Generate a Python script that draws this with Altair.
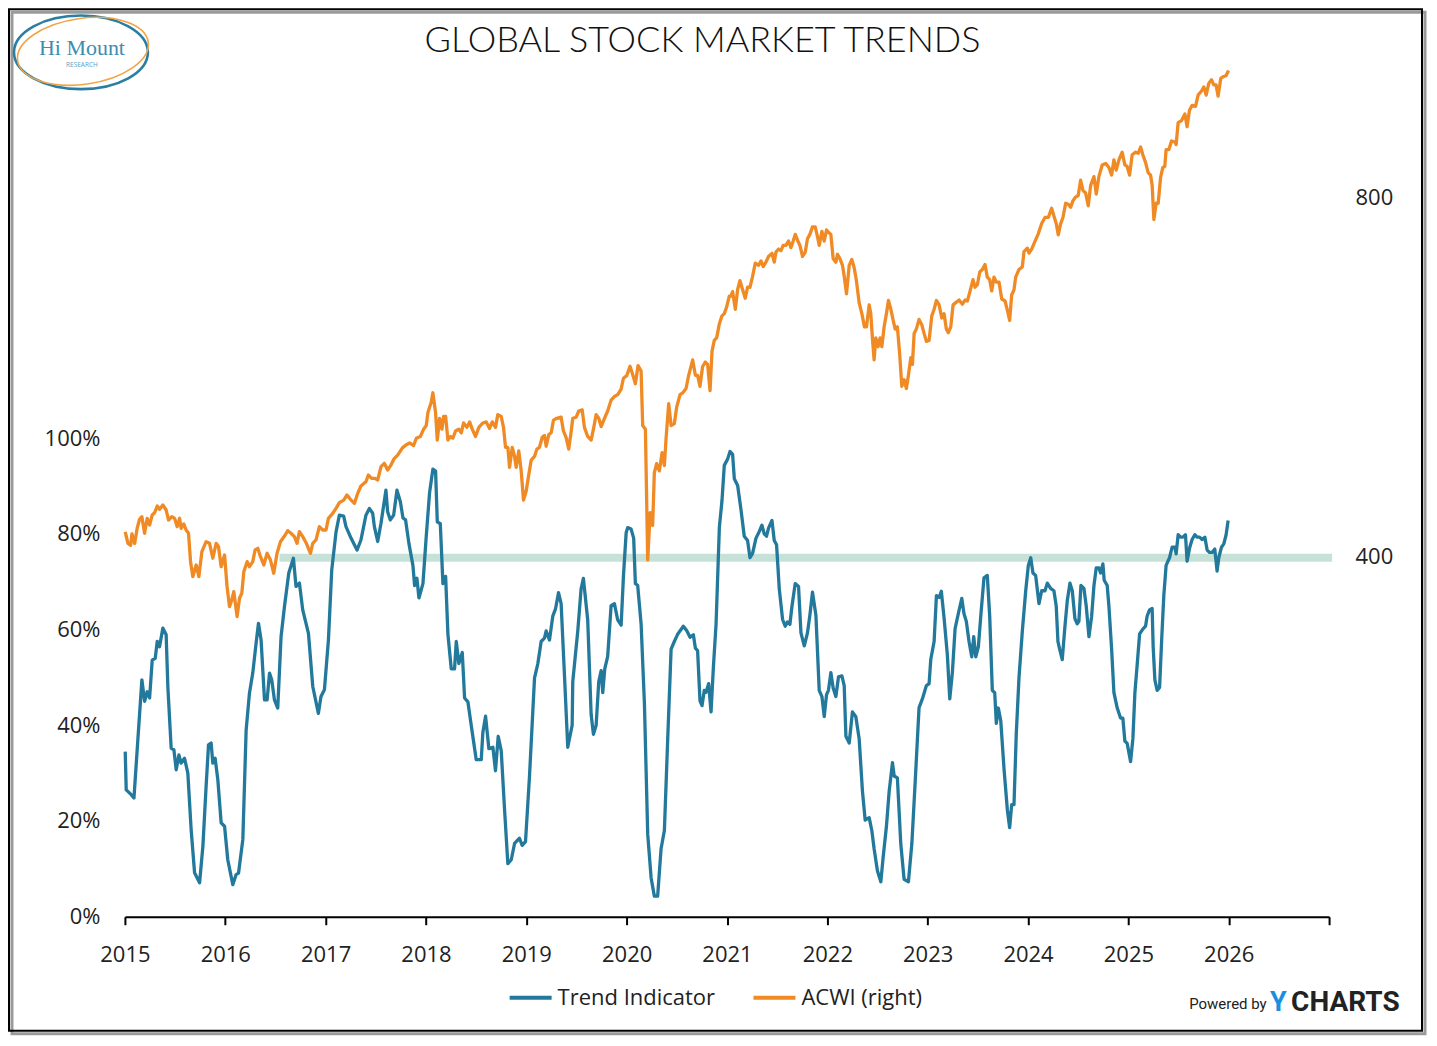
import altair as alt
import pandas as pd

# ---------------- data ----------------
trend_t = [2015.003, 2015.013, 2015.063, 2015.090, 2015.129, 2015.169, 2015.196, 2015.222, 2015.246, 2015.272,
           2015.302, 2015.322, 2015.345, 2015.378, 2015.411, 2015.428, 2015.461, 2015.488, 2015.511, 2015.538,
           2015.560, 2015.594, 2015.627, 2015.660, 2015.694, 2015.744, 2015.777, 2015.809, 2015.833, 2015.859,
           2015.876, 2015.899, 2015.926, 2015.959, 2015.993, 2016.025, 2016.075, 2016.108, 2016.132, 2016.175,
           2016.208, 2016.241, 2016.274, 2016.307, 2016.331, 2016.357, 2016.391, 2016.417, 2016.441, 2016.463,
           2016.490, 2016.523, 2016.556, 2016.590, 2016.633, 2016.679, 2016.705, 2016.739, 2016.772, 2016.829,
           2016.872, 2016.928, 2016.954, 2016.988, 2017.028, 2017.061, 2017.104, 2017.137, 2017.180, 2017.203,
           2017.253, 2017.313, 2017.352, 2017.402, 2017.436, 2017.469, 2017.486, 2017.519, 2017.552, 2017.601,
           2017.618, 2017.645, 2017.678, 2017.711, 2017.745, 2017.771, 2017.797, 2017.830, 2017.870, 2017.887,
           2017.910, 2017.930, 2017.970, 2018.003, 2018.036, 2018.069, 2018.096, 2018.113, 2018.143, 2018.169,
           2018.196, 2018.219, 2018.252, 2018.285, 2018.302, 2018.328, 2018.362, 2018.385, 2018.418, 2018.451,
           2018.501, 2018.551, 2018.567, 2018.594, 2018.627, 2018.667, 2018.693, 2018.720, 2018.750, 2018.783,
           2018.816, 2018.850, 2018.883, 2018.932, 2018.959, 2018.992, 2019.032, 2019.082, 2019.115, 2019.148,
           2019.181, 2019.198, 2019.231, 2019.264, 2019.291, 2019.321, 2019.347, 2019.380, 2019.413, 2019.457,
           2019.463, 2019.513, 2019.546, 2019.569, 2019.612, 2019.646, 2019.669, 2019.696, 2019.722, 2019.746,
           2019.762, 2019.782, 2019.811, 2019.845, 2019.878, 2019.911, 2019.945, 2019.968, 2019.995, 2020.011,
           2020.044, 2020.070, 2020.087, 2020.110, 2020.144, 2020.177, 2020.210, 2020.244, 2020.276, 2020.309,
           2020.343, 2020.376, 2020.409, 2020.443, 2020.475, 2020.508, 2020.565, 2020.598, 2020.632, 2020.665,
           2020.685, 2020.707, 2020.731, 2020.751, 2020.774, 2020.791, 2020.817, 2020.841, 2020.864, 2020.891,
           2020.924, 2020.950, 2020.973, 2021.006, 2021.030, 2021.056, 2021.073, 2021.106, 2021.139, 2021.172,
           2021.205, 2021.229, 2021.255, 2021.289, 2021.322, 2021.348, 2021.371, 2021.394, 2021.414, 2021.448,
           2021.471, 2021.494, 2021.521, 2021.554, 2021.580, 2021.603, 2021.627, 2021.647, 2021.680, 2021.713,
           2021.737, 2021.770, 2021.802, 2021.826, 2021.852, 2021.886, 2021.919, 2021.946, 2021.969, 2021.992,
           2022.011, 2022.035, 2022.058, 2022.085, 2022.111, 2022.145, 2022.168, 2022.185, 2022.218, 2022.250,
           2022.284, 2022.317, 2022.350, 2022.377, 2022.417, 2022.444, 2022.466, 2022.499, 2022.533, 2022.556,
           2022.589, 2022.616, 2022.649, 2022.666, 2022.698, 2022.732, 2022.765, 2022.808, 2022.842, 2022.875,
           2022.914, 2022.947, 2022.987, 2023.014, 2023.031, 2023.064, 2023.087, 2023.114, 2023.136, 2023.163,
           2023.196, 2023.220, 2023.246, 2023.273, 2023.306, 2023.340, 2023.362, 2023.385, 2023.412, 2023.439,
           2023.459, 2023.479, 2023.505, 2023.529, 2023.561, 2023.594, 2023.618, 2023.644, 2023.668, 2023.684,
           2023.704, 2023.728, 2023.761, 2023.794, 2023.817, 2023.837, 2023.860, 2023.883, 2023.910, 2023.943,
           2023.977, 2024.003, 2024.027, 2024.049, 2024.076, 2024.109, 2024.136, 2024.169, 2024.192, 2024.225,
           2024.258, 2024.281, 2024.298, 2024.315, 2024.341, 2024.368, 2024.391, 2024.418, 2024.441, 2024.467,
           2024.490, 2024.507, 2024.527, 2024.557, 2024.580, 2024.607, 2024.634, 2024.657, 2024.680, 2024.706,
           2024.723, 2024.746, 2024.759, 2024.789, 2024.806, 2024.833, 2024.856, 2024.889, 2024.922, 2024.945,
           2024.965, 2024.988, 2025.022, 2025.045, 2025.065, 2025.088, 2025.112, 2025.144, 2025.171, 2025.187,
           2025.211, 2025.237, 2025.247, 2025.264, 2025.287, 2025.311, 2025.331, 2025.353, 2025.376, 2025.410,
           2025.436, 2025.463, 2025.476, 2025.496, 2025.520, 2025.543, 2025.569, 2025.585, 2025.612, 2025.635,
           2025.662, 2025.685, 2025.709, 2025.735, 2025.762, 2025.785, 2025.808, 2025.834, 2025.861, 2025.884,
           2025.901, 2025.928, 2025.951, 2025.974, 2025.994]
trend_v = [34.5, 26.5, 25.5, 24.8, 37.0, 49.5, 45.0, 47.0, 45.7, 53.6,
           54.0, 57.5, 56.4, 60.3, 58.9, 48.0, 35.2, 34.9, 30.7, 33.8,
           32.1, 33.1, 30.0, 18.2, 9.2, 7.1, 14.7, 27.2, 35.9, 36.3,
           32.1, 33.1, 28.6, 19.6, 18.9, 11.9, 6.7, 8.8, 9.1, 16.1,
           39.0, 46.7, 50.9, 57.1, 61.3, 57.8, 45.3, 45.3, 50.9, 49.5,
           45.3, 43.6, 58.5, 64.8, 71.8, 74.9, 69.0, 69.7, 64.1, 59.2,
           48.1, 42.5, 46.0, 47.4, 57.8, 72.4, 80.4, 83.9, 83.7, 81.5,
           79.1, 76.6, 78.7, 83.9, 85.3, 84.3, 81.5, 78.4, 82.2, 89.1,
           84.6, 82.9, 83.9, 89.1, 86.7, 83.3, 82.9, 78.0, 73.4, 69.2,
           70.7, 66.6, 69.6, 79.5, 88.6, 93.5, 93.1, 82.5, 82.1, 69.6,
           71.1, 59.0, 51.8, 51.8, 57.5, 52.9, 55.2, 45.7, 44.9, 40.0,
           32.8, 32.8, 38.5, 41.9, 35.1, 35.4, 30.5, 37.7, 34.7, 22.5,
           11.1, 11.9, 15.3, 16.4, 14.9, 15.7, 29.4, 49.9, 52.9, 57.5,
           58.2, 59.7, 57.8, 62.8, 64.3, 67.7, 65.4, 50.6, 35.4, 40.0,
           49.1, 59.7, 68.5, 70.7, 62.0, 42.3, 38.1, 40.0, 49.1, 51.4,
           46.8, 51.8, 54.4, 65.0, 65.4, 62.0, 60.9, 71.1, 80.2, 81.3,
           81.0, 79.1, 69.6, 69.2, 61.2, 44.6, 17.2, 8.1, 4.3, 4.3,
           14.2, 18.0, 37.0, 55.9, 57.5, 59.0, 60.7, 59.8, 58.4, 58.9,
           56.1, 55.6, 45.1, 44.1, 47.3, 46.9, 48.7, 42.8, 52.0, 61.1,
           81.4, 86.9, 94.3, 95.6, 97.2, 96.6, 91.5, 90.1, 85.1, 79.5,
           78.6, 75.0, 75.9, 79.1, 80.5, 81.8, 80.0, 79.5, 81.2, 82.8,
           78.6, 77.7, 68.5, 62.1, 60.7, 61.6, 61.1, 64.8, 69.6, 69.0,
           59.3, 56.6, 59.3, 63.0, 67.8, 63.0, 47.3, 46.0, 41.8, 46.4,
           47.3, 51.0, 47.8, 46.0, 50.1, 50.3, 48.3, 37.7, 36.3, 42.8,
           41.8, 37.2, 26.2, 20.2, 20.7, 17.9, 14.2, 9.6, 7.3, 12.4,
           18.9, 26.2, 32.2, 29.4, 29.0, 15.2, 7.8, 7.3, 15.2, 28.0,
           43.7, 45.5, 48.3, 48.7, 53.8, 57.5, 67.1, 66.7, 68.0, 62.5,
           54.7, 45.5, 51.0, 60.2, 63.4, 66.5, 63.3, 61.7, 57.5, 54.3,
           58.5, 54.3, 56.4, 62.8, 70.8, 71.3, 62.8, 47.3, 46.8, 40.4,
           43.6, 41.0, 30.8, 22.3, 18.6, 23.4, 23.4, 38.3, 50.0, 59.6,
           68.1, 73.4, 75.0, 71.8, 71.3, 65.4, 68.1, 68.1, 69.7, 68.6,
           68.1, 64.9, 57.5, 55.9, 53.7, 60.7, 66.0, 69.7, 68.1, 62.3,
           61.2, 61.7, 69.2, 68.6, 64.9, 58.5, 62.8, 69.2, 72.9, 72.9,
           71.8, 73.7, 70.3, 69.2, 64.9, 55.9, 46.8, 43.6, 41.5, 41.5,
           36.7, 36.2, 32.4, 37.2, 46.8, 52.7, 59.1, 60.1, 60.7, 62.8,
           64.1, 64.4, 56.4, 49.5, 47.3, 47.9, 57.5, 67.1, 73.4, 75.0,
           77.2, 77.2, 75.8, 79.8, 79.3, 79.3, 79.8, 74.3, 77.2, 78.8,
           79.8, 79.3, 79.3, 78.8, 79.3, 76.6, 76.1, 76.1, 76.8, 72.2,
           75.0, 77.2, 77.9, 79.8, 82.8]

acwi_t = [2015.003, 2015.030, 2015.057, 2015.070, 2015.097, 2015.122, 2015.146, 2015.169, 2015.196, 2015.222,
          2015.246, 2015.272, 2015.296, 2015.322, 2015.345, 2015.378, 2015.411, 2015.435, 2015.468, 2015.495,
          2015.521, 2015.545, 2015.560, 2015.587, 2015.610, 2015.634, 2015.654, 2015.677, 2015.710, 2015.737,
          2015.767, 2015.809, 2015.843, 2015.876, 2015.909, 2015.933, 2015.959, 2015.993, 2016.018, 2016.042,
          2016.065, 2016.085, 2016.118, 2016.142, 2016.165, 2016.185, 2016.218, 2016.241, 2016.274, 2016.297,
          2016.324, 2016.351, 2016.384, 2016.417, 2016.450, 2016.483, 2016.516, 2016.550, 2016.590, 2016.623,
          2016.656, 2016.689, 2016.715, 2016.739, 2016.772, 2016.805, 2016.849, 2016.872, 2016.904, 2016.938,
          2016.971, 2017.004, 2017.028, 2017.071, 2017.104, 2017.137, 2017.180, 2017.213, 2017.247, 2017.287,
          2017.320, 2017.352, 2017.402, 2017.426, 2017.459, 2017.492, 2017.519, 2017.552, 2017.585, 2017.618,
          2017.651, 2017.685, 2017.718, 2017.751, 2017.771, 2017.804, 2017.837, 2017.877, 2017.904, 2017.944,
          2017.977, 2018.003, 2018.019, 2018.053, 2018.069, 2018.096, 2018.113, 2018.136, 2018.159, 2018.176,
          2018.196, 2018.219, 2018.245, 2018.268, 2018.295, 2018.328, 2018.352, 2018.375, 2018.408, 2018.435,
          2018.461, 2018.494, 2018.527, 2018.567, 2018.601, 2018.634, 2018.661, 2018.693, 2018.716, 2018.750,
          2018.773, 2018.793, 2018.816, 2018.833, 2018.860, 2018.883, 2018.899, 2018.925, 2018.949, 2018.972,
          2018.999, 2019.025, 2019.049, 2019.082, 2019.105, 2019.131, 2019.158, 2019.181, 2019.198, 2019.224,
          2019.248, 2019.271, 2019.304, 2019.347, 2019.370, 2019.397, 2019.423, 2019.447, 2019.463, 2019.497,
          2019.523, 2019.557, 2019.579, 2019.612, 2019.646, 2019.669, 2019.696, 2019.722, 2019.746, 2019.779,
          2019.811, 2019.845, 2019.878, 2019.911, 2019.945, 2019.968, 2020.001, 2020.034, 2020.060, 2020.087,
          2020.114, 2020.144, 2020.160, 2020.187, 2020.210, 2020.234, 2020.259, 2020.276, 2020.299, 2020.326,
          2020.353, 2020.376, 2020.393, 2020.419, 2020.443, 2020.475, 2020.498, 2020.532, 2020.558, 2020.592,
          2020.618, 2020.658, 2020.685, 2020.707, 2020.731, 2020.757, 2020.784, 2020.807, 2020.831, 2020.851,
          2020.874, 2020.897, 2020.924, 2020.950, 2020.973, 2020.996, 2021.023, 2021.040, 2021.056, 2021.083,
          2021.106, 2021.129, 2021.155, 2021.182, 2021.205, 2021.229, 2021.255, 2021.282, 2021.315, 2021.339,
          2021.361, 2021.388, 2021.414, 2021.448, 2021.471, 2021.488, 2021.514, 2021.538, 2021.560, 2021.587,
          2021.613, 2021.637, 2021.660, 2021.680, 2021.703, 2021.727, 2021.753, 2021.780, 2021.802, 2021.826,
          2021.852, 2021.879, 2021.902, 2021.919, 2021.946, 2021.969, 2021.992, 2022.011, 2022.035, 2022.058,
          2022.085, 2022.101, 2022.125, 2022.151, 2022.168, 2022.191, 2022.218, 2022.244, 2022.267, 2022.290,
          2022.317, 2022.344, 2022.370, 2022.390, 2022.417, 2022.433, 2022.449, 2022.466, 2022.483, 2022.506,
          2022.526, 2022.543, 2022.566, 2022.589, 2022.609, 2022.633, 2022.656, 2022.676, 2022.698, 2022.722,
          2022.742, 2022.765, 2022.788, 2022.808, 2022.832, 2022.848, 2022.865, 2022.887, 2022.914, 2022.941,
          2022.964, 2022.987, 2023.014, 2023.041, 2023.064, 2023.087, 2023.114, 2023.140, 2023.163, 2023.186,
          2023.206, 2023.230, 2023.253, 2023.280, 2023.313, 2023.346, 2023.372, 2023.395, 2023.419, 2023.452,
          2023.472, 2023.495, 2023.519, 2023.545, 2023.571, 2023.594, 2023.618, 2023.638, 2023.661, 2023.684,
          2023.711, 2023.738, 2023.771, 2023.794, 2023.817, 2023.837, 2023.860, 2023.877, 2023.910, 2023.943,
          2023.960, 2023.993, 2024.010, 2024.036, 2024.069, 2024.102, 2024.136, 2024.169, 2024.202, 2024.235,
          2024.258, 2024.281, 2024.301, 2024.325, 2024.348, 2024.375, 2024.401, 2024.425, 2024.448, 2024.474,
          2024.500, 2024.524, 2024.547, 2024.574, 2024.600, 2024.624, 2024.657, 2024.680, 2024.706, 2024.739,
          2024.773, 2024.806, 2024.833, 2024.856, 2024.879, 2024.906, 2024.938, 2024.965, 2024.988, 2025.012,
          2025.038, 2025.072, 2025.098, 2025.122, 2025.144, 2025.171, 2025.197, 2025.221, 2025.237, 2025.254,
          2025.277, 2025.297, 2025.321, 2025.343, 2025.363, 2025.376, 2025.403, 2025.430, 2025.463, 2025.476,
          2025.496, 2025.530, 2025.563, 2025.585, 2025.609, 2025.635, 2025.669, 2025.695, 2025.729, 2025.752,
          2025.775, 2025.801, 2025.828, 2025.851, 2025.874, 2025.894, 2025.921, 2025.944, 2025.973, 2025.998]
acwi_v = [428.0, 415.0, 413.0, 425.6, 415.0, 431.9, 441.9, 444.8, 426.3, 443.0,
          435.6, 446.7, 449.2, 456.7, 453.0, 457.8, 452.2, 441.1, 444.8, 443.0,
          433.7, 443.0, 431.9, 436.7, 430.0, 426.3, 394.8, 378.1, 391.1, 378.1,
          405.9, 417.0, 415.2, 398.6, 415.2, 411.4, 389.2, 402.2, 367.0, 344.8,
          352.2, 361.4, 333.7, 354.1, 359.7, 383.7, 394.8, 389.2, 394.8, 407.8,
          409.6, 400.3, 391.1, 404.1, 396.7, 381.9, 404.1, 417.0, 423.3, 429.2,
          426.3, 422.6, 415.2, 428.1, 422.6, 415.9, 404.1, 415.2, 418.9, 433.7,
          430.0, 430.0, 443.0, 448.5, 454.1, 460.4, 463.3, 468.9, 464.1, 459.6,
          470.8, 478.9, 483.7, 491.1, 487.4, 487.4, 485.6, 500.4, 504.1, 496.7,
          502.2, 509.7, 513.3, 518.9, 521.9, 524.8, 526.8, 523.9, 532.0, 534.0,
          542.1, 546.1, 560.3, 572.4, 582.6, 560.3, 530.0, 554.2, 542.1, 556.2,
          556.2, 530.0, 534.0, 532.0, 540.1, 542.1, 538.1, 549.0, 544.1, 550.2,
          542.1, 534.0, 544.1, 549.0, 550.2, 542.9, 550.2, 544.1, 558.3, 556.2,
          544.1, 521.9, 521.9, 499.7, 521.9, 511.8, 499.7, 517.9, 495.7, 463.3,
          473.4, 491.7, 507.8, 511.8, 519.9, 521.9, 532.8, 535.2, 523.1, 536.1,
          538.1, 552.2, 554.2, 555.4, 540.1, 532.8, 519.9, 539.3, 554.2, 555.4,
          562.3, 563.6, 544.1, 534.0, 530.0, 542.1, 558.3, 554.2, 545.0, 554.2,
          562.3, 574.4, 578.4, 580.5, 586.6, 598.7, 601.6, 612.0, 602.8, 592.6,
          612.8, 606.8, 546.1, 542.1, 396.7, 449.2, 435.0, 493.7, 503.8, 495.7,
          515.9, 501.7, 532.0, 570.4, 546.1, 548.2, 566.3, 580.5, 582.4, 587.3,
          602.0, 619.1, 602.0, 602.0, 589.8, 611.8, 616.7, 614.2, 584.9, 628.9,
          641.1, 643.6, 659.2, 668.1, 670.6, 677.9, 690.1, 690.1, 695.0, 675.4,
          697.4, 707.2, 697.4, 687.7, 699.9, 699.9, 712.1, 726.8, 724.3, 729.2,
          722.9, 727.8, 734.1, 737.6, 727.8, 739.0, 742.4, 740.6, 746.4, 746.4,
          751.3, 744.0, 751.3, 758.7, 752.2, 746.4, 734.1, 739.0, 753.8, 758.7,
          767.0, 767.0, 756.2, 746.4, 762.1, 751.3, 763.6, 761.1, 758.7, 731.7,
          727.8, 736.6, 731.7, 724.3, 712.1, 692.6, 724.3, 730.8, 721.9, 707.2,
          682.8, 670.6, 655.9, 655.9, 680.3, 670.6, 643.6, 619.1, 643.6, 633.8,
          643.6, 633.8, 655.9, 670.6, 685.2, 675.4, 663.2, 653.4, 655.9, 624.0,
          589.8, 597.1, 587.3, 602.0, 621.6, 614.2, 648.6, 653.4, 664.1, 658.3,
          648.6, 639.7, 640.7, 668.1, 675.4, 685.2, 680.3, 665.7, 670.6, 653.4,
          649.4, 655.9, 680.3, 682.8, 685.7, 681.1, 685.7, 684.6, 694.2, 708.3,
          699.9, 702.7, 716.9, 719.7, 725.3, 711.2, 708.3, 695.9, 711.2, 705.6,
          705.6, 686.8, 684.6, 674.3, 663.0, 691.3, 697.0, 711.2, 719.7, 722.6,
          739.6, 743.4, 737.8, 742.3, 750.9, 759.3, 770.7, 777.5, 777.5, 787.7,
          779.2, 770.7, 758.2, 770.7, 777.5, 793.3, 792.2, 788.8, 796.2, 800.2,
          801.9, 818.9, 807.6, 804.7, 790.5, 813.2, 822.9, 803.6, 822.9, 835.9,
          837.6, 833.1, 824.6, 841.6, 830.2, 841.6, 850.1, 835.9, 834.2, 824.6,
          847.2, 850.1, 848.9, 855.8, 847.2, 838.8, 827.4, 824.6, 813.2, 775.2,
          793.3, 793.3, 821.8, 833.1, 834.2, 852.9, 852.9, 862.5, 861.4, 858.6,
          883.0, 885.2, 892.6, 878.4, 896.6, 902.2, 901.1, 913.6, 918.1, 922.7,
          913.6, 926.6, 930.6, 924.9, 924.9, 912.4, 932.2, 934.0, 935.1, 940.8]

series_names = ["Trend Indicator", "ACWI (right)"]
series_colors = ["#23799c", "#f08a24"]
threshold = [75.0]
threshold_start = [2016.54]
threshold_end = [2027.03]
year_ticks = list(range(2015, 2028))
left_ticks = [0, 20, 40, 60, 80, 100]
right_ticks = [400, 800]
title_text = "GLOBAL STOCK MARKET TRENDS"

# ---------------- layout constants ----------------
W, H = 1205, 855
LEFT_MAX = 178.5   # percent at top of plot
RIGHT_MAX = 950.0  # ACWI value at top of plot
FONT = "Open Sans"

trend_df = pd.DataFrame({"t": trend_t, "v": trend_v, "series": series_names[0]})
acwi_df = pd.DataFrame({"t": acwi_t, "v": acwi_v, "series": series_names[1]})
band_df = pd.DataFrame({"t": threshold_start, "t2": threshold_end, "v": threshold})
one = pd.DataFrame({"k": [0]})

x_enc = alt.X(
    "t:Q",
    scale=alt.Scale(domain=[2015, 2027], nice=False, zero=False),
    axis=alt.Axis(
        values=year_ticks, format="d",
        labelExpr="datum.value >= 2027 ? '' : datum.label",
        labelFlush=False, labelOverlap=False,
        domain=True, domainColor="#000", domainWidth=2,
        ticks=True, tickColor="#000", tickWidth=2, tickSize=8,
        labelPadding=20, labelFontSize=22, labelFont=FONT, labelColor="#222",
        grid=False, title=None,
    ),
)

color_enc = alt.Color(
    "series:N",
    scale=alt.Scale(domain=series_names, range=series_colors),
    legend=alt.Legend(
        orient="none", legendX=383, legendY=913, direction="horizontal",
        title=None, symbolType="stroke", symbolSize=1764, symbolStrokeWidth=4,
        labelFontSize=22, labelFont=FONT, labelColor="#222", labelOffset=4,
        columnPadding=30, labelLimit=400,
    ),
)

band = alt.Chart(band_df).mark_rule(color="#c6e1d8", strokeWidth=8).encode(
    x=x_enc, x2="t2:Q",
    y=alt.Y("v:Q", scale=alt.Scale(domain=[0, LEFT_MAX], nice=False, zero=True), axis=None),
)

trend = alt.Chart(trend_df).mark_line(strokeWidth=3.3, strokeJoin="round").encode(
    x=x_enc,
    y=alt.Y(
        "v:Q",
        scale=alt.Scale(domain=[0, LEFT_MAX], nice=False, zero=True),
        axis=alt.Axis(
            orient="left", values=left_ticks, labelExpr="datum.value + '%'",
            domain=False, ticks=False, tickSize=0, labelPadding=25,
            labelFontSize=22, labelFont=FONT, labelColor="#222", grid=False, title=None,
        ),
    ),
    color=color_enc,
)

acwi = alt.Chart(acwi_df).mark_line(strokeWidth=3.3, strokeJoin="round").encode(
    x=x_enc,
    y=alt.Y(
        "v:Q",
        scale=alt.Scale(domain=[0, RIGHT_MAX], nice=False, zero=True),
        axis=alt.Axis(
            orient="right", values=right_ticks,
            domain=False, ticks=False, tickSize=0, labelPadding=26,
            labelFontSize=22, labelFont=FONT, labelColor="#222", grid=False, title=None,
        ),
    ),
    color=color_enc,
)

# ---------------- decorations (frame, title, logo, footer) ----------------
shadow = alt.Chart(one).mark_rect(fillOpacity=0, stroke="#9a9a9a", strokeWidth=3).encode(
    x=alt.value(-113), x2=alt.value(1301), y=alt.value(-50), y2=alt.value(972))
frame = alt.Chart(one).mark_rect(fillOpacity=0, stroke="#000", strokeWidth=2).encode(
    x=alt.value(-116), x2=alt.value(1298), y=alt.value(-53), y2=alt.value(969))

title = alt.Chart(one).mark_text(
    text=title_text, font="Lato", fontWeight=300, fontSize=36, color="#111",
    align="center", baseline="middle").encode(x=alt.value(578), y=alt.value(-21))

ellipse = "M -1 0 A 1 0.55 0 1 1 1 0 A 1 0.55 0 1 1 -1 0 Z"
ellipse2 = "M -1 0 A 1 0.5 0 1 1 1 0 A 1 0.5 0 1 1 -1 0 Z"
logo_blue = alt.Chart(one).mark_point(
    shape=ellipse, size=17956, filled=False, strokeWidth=2.6, color="#2a7ea3", opacity=1
).encode(x=alt.value(-44), y=alt.value(-10))
logo_orange = alt.Chart(one).mark_point(
    shape=ellipse2, size=17424, filled=False, strokeWidth=1.6, color="#f2a447", opacity=1, angle=352
).encode(x=alt.value(-42), y=alt.value(-11))
logo_text = alt.Chart(one).mark_text(
    text="Hi Mount", font="Liberation Serif", fontSize=22, color="#3d8db0",
    align="center", baseline="middle").encode(x=alt.value(-43), y=alt.value(-14))
logo_sub = alt.Chart(one).mark_text(
    text="RESEARCH", font="Open Sans", fontSize=6.5, color="#5aa0c0",
    align="center", baseline="middle").encode(x=alt.value(-43), y=alt.value(3))

powered = alt.Chart(one).mark_text(
    text="Powered by", font="Roboto", fontSize=15, color="#222",
    align="left", baseline="alphabetic").encode(x=alt.value(1065), y=alt.value(947))
ylogo = alt.Chart(one).mark_text(
    text="Y", font="Roboto", fontWeight="bold", fontSize=27, color="#1a8fe0",
    align="left", baseline="alphabetic").encode(x=alt.value(1146), y=alt.value(949))
charts = alt.Chart(one).mark_text(
    text="CHARTS", font="Roboto", fontWeight="bold", fontSize=28, color="#222",
    align="left", baseline="alphabetic").encode(x=alt.value(1167), y=alt.value(949))

chart = alt.layer(
    shadow, frame, band, trend, acwi,
    title, logo_blue, logo_orange, logo_text, logo_sub, powered, ylogo, charts,
).resolve_scale(y="independent").properties(
    width=W, height=H,
    autosize=alt.AutoSizeParams(type="none"),
    padding={"left": 117, "top": 54, "right": 100, "bottom": 123},
    background="white",
).configure_view(stroke=None)

chart.save("out.html", embed_options={"renderer": "svg", "actions": False})
